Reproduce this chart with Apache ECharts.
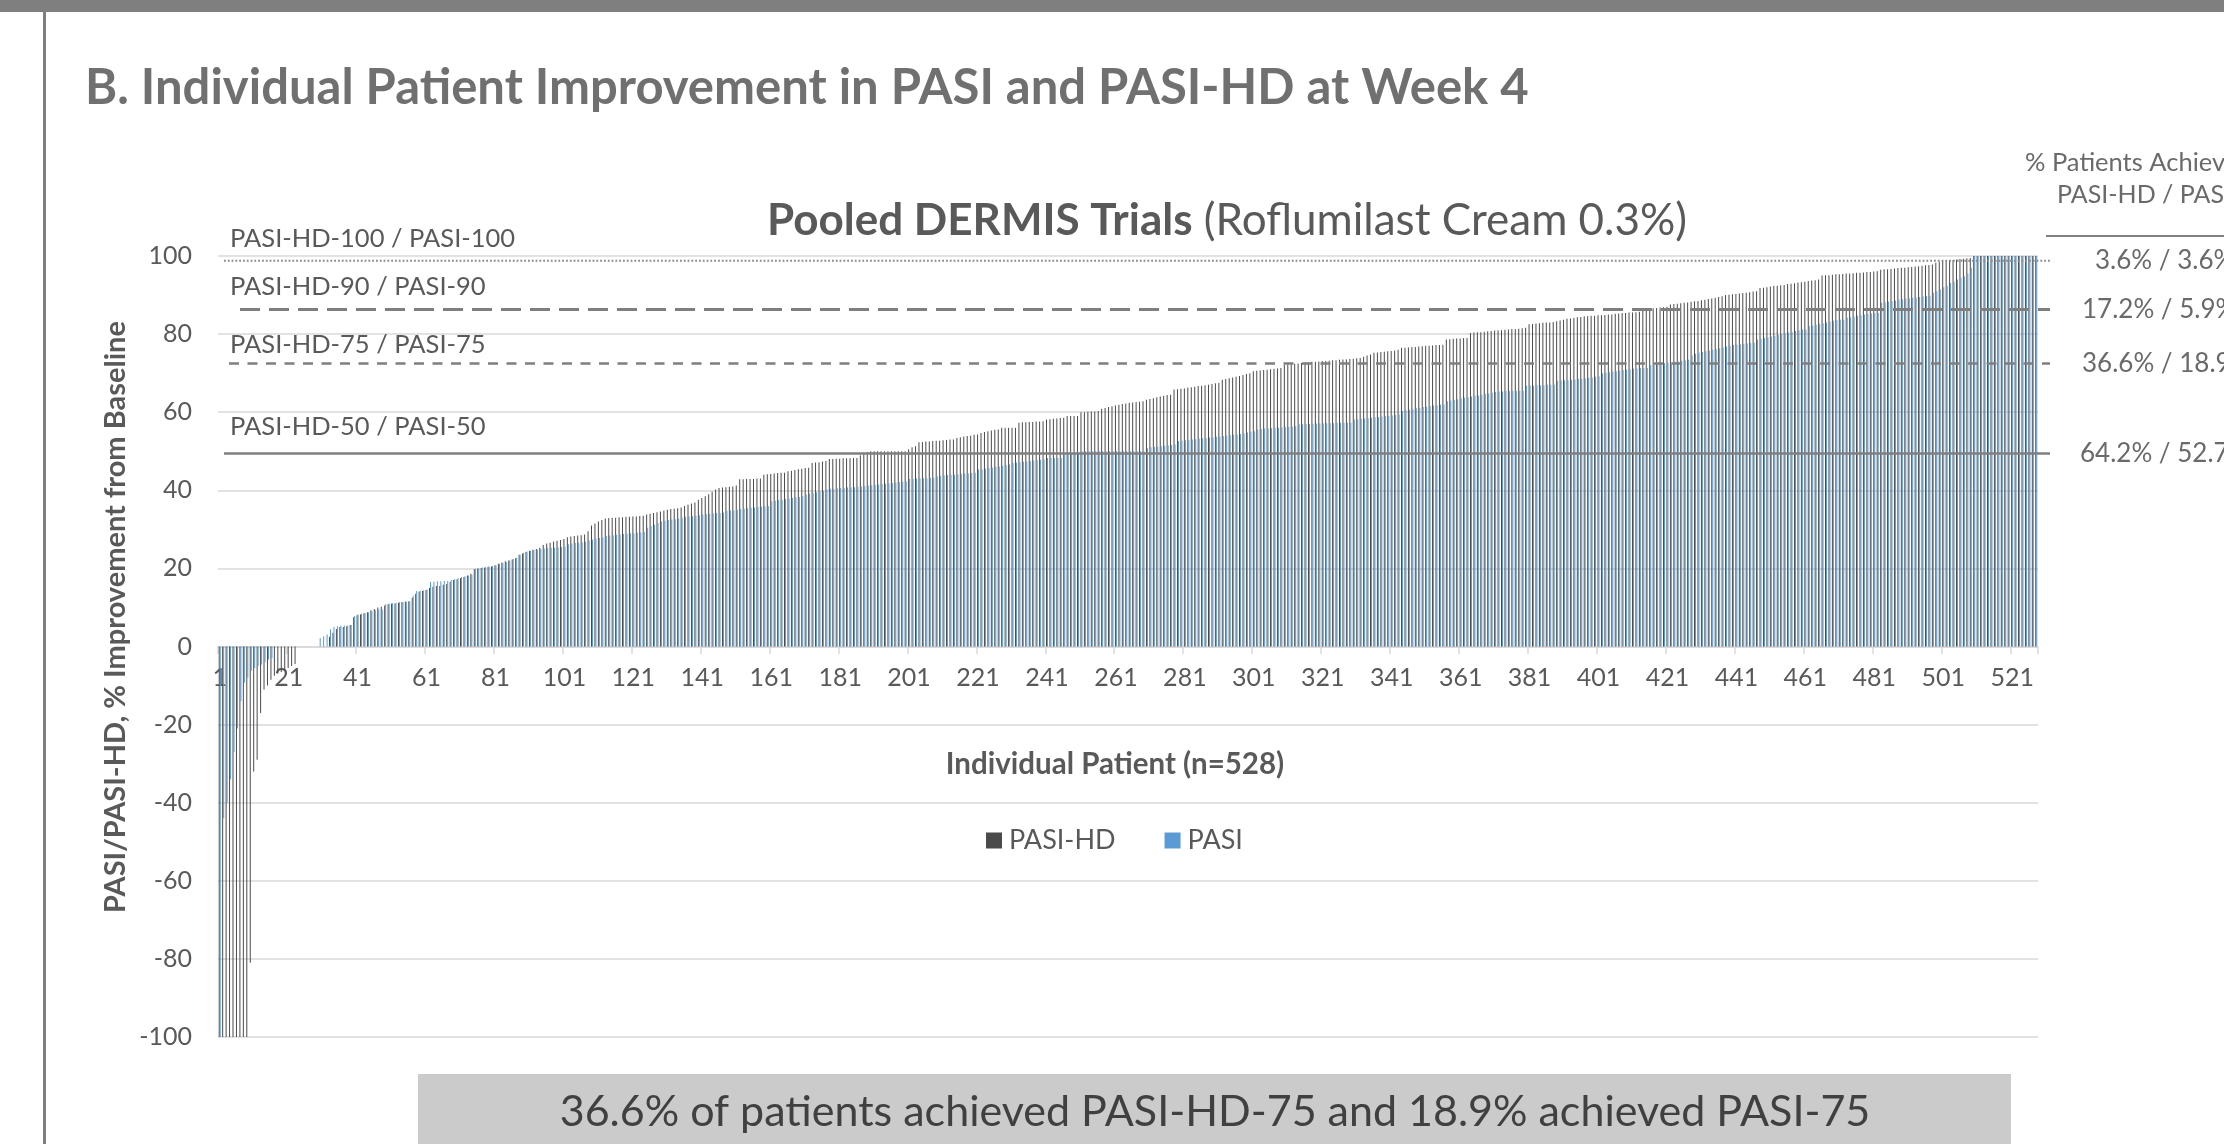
<!DOCTYPE html>
<html><head><meta charset="utf-8">
<script src="https://cdn.jsdelivr.net/npm/echarts@6/dist/echarts.min.js"></script>
<style>html,body{margin:0;padding:0;background:#fff}#c{width:2224px;height:1144px}</style>
</head><body><div id="c"></div>
<script>
// ---------------- DATA ----------------
const patients = [];
for (let i = 1; i <= 528; i++) patients.push(String(i));

// PASI-HD % improvement, individual patients (sorted)
const pasiHD = [
-100,-100,-100,-100,-100,-100,-100,-100,-100,-81,
-32,-29,-17,-11,-10,-8.5,-7.5,-7,-6.5,-6,
-5.5,-5,-4.5,0,0,0,0,0,0,0,
0,0,2.5,3.5,4.5,5,5,5.2,5.5,7.5,
8,8.2,8.5,8.8,9.3,9.6,10,10.2,10.5,10.8,
11,11,11.2,11.4,11.5,11.6,12.5,13.5,14,14.2,
14.5,15,15.3,15.5,15.5,15.8,16,16.5,17,17.2,
17.5,17.8,18.2,18.6,19.8,20,20.1,20.2,20.4,20.5,
20.8,21.2,21.5,21.8,22,22.3,22.6,23.5,23.8,24.2,
24.5,24.8,25,25.3,26,26.4,26.6,26.9,27.1,27.3,
27.5,28,28.2,28.3,28.4,28.5,28.7,29.5,31,31.5,
32,32.4,32.8,32.9,33,33,33.1,33.1,33.2,33.2,
33.3,33.3,33.4,33.5,33.8,34,34.2,34.4,34.6,34.8,
35,35.2,35.3,35.4,35.6,36,36.3,36.6,36.9,37.6,
38,38.5,39,39.6,40.2,40.6,40.7,40.8,40.9,41,
41.2,42.8,42.8,42.9,42.9,42.9,43,43,44,44.1,
44.2,44.3,44.4,44.5,44.5,44.9,45,45.2,45.4,45.5,
45.7,45.8,47,47.1,47.2,47.4,47.5,48,48,48.1,
48.1,48.2,48.2,48.2,48.3,48.3,49,49.5,49.8,50,
50,50,50,50,50,50,50,50,50,50,
50.5,51,51.3,52.3,52.4,52.5,52.5,52.6,52.7,52.7,
52.8,52.9,53,53,53.4,53.6,53.8,53.9,54,54.2,
54.3,54.7,54.9,55.1,55.3,55.5,55.6,56,56,56,
56,56,57.3,57.4,57.4,57.5,57.5,57.6,57.6,57.7,
58.1,58.2,58.3,58.4,58.5,58.6,59,59,59,59,
60,60,60.1,60.2,60.2,60.3,60.9,61.1,61.3,61.5,
61.7,61.9,62.1,62.2,62.4,62.5,62.6,62.7,62.8,63.2,
63.4,63.6,63.8,64,64.2,64.4,64.5,65.8,65.9,66,
66.1,66.3,66.4,66.5,66.7,66.8,66.9,67,67.2,67.4,
67.5,68.3,68.5,68.7,68.9,69.1,69.3,69.5,69.8,70,
70.5,70.6,70.7,70.8,70.9,71,71.1,71.2,71.3,72.1,
72.2,72.3,72.4,72.5,72.6,72.7,72.8,72.9,72.9,73,
73.1,73.1,73.2,73.3,73.3,73.4,73.5,73.5,73.6,73.7,
73.8,73.9,74.2,74.5,74.8,75.2,75.3,75.4,75.5,75.6,
75.7,75.8,76,76.5,76.5,76.6,76.7,76.7,76.8,76.9,
77,77,77.1,77.2,77.2,77.3,78.6,78.7,78.8,78.9,
78.9,79,79,80.3,80.4,80.5,80.5,80.6,80.7,80.8,
80.9,81,81,81.1,81.2,81.3,81.3,81.4,81.5,81.6,
82.5,82.6,82.7,82.8,82.9,83,83,83.1,83.3,83.5,
83.7,83.9,84,84.1,84.3,84.4,84.6,84.6,84.7,84.7,
84.8,84.8,84.9,85,85,85.2,85.3,85.4,85.4,85.5,
85.5,85.6,85.7,86.3,86.4,86.5,86.6,86.7,86.8,86.9,
87,87.6,87.7,87.8,87.9,88,88.1,88.3,88.4,88.5,
88.7,88.8,89,89.1,89.3,89.5,89.7,90,90.1,90.2,
90.3,90.4,90.5,90.6,90.7,90.9,91,91.8,91.9,92,
92.2,92.3,92.4,92.5,92.6,92.8,92.9,93,93.2,93.3,
93.4,93.6,93.7,93.8,94,95,95.1,95.1,95.2,95.3,
95.3,95.4,95.5,95.5,95.6,95.7,95.7,95.8,95.9,95.9,
96,96.1,96.5,96.6,96.6,96.7,96.8,96.9,97,97,
97.1,97.2,97.3,97.4,97.5,97.6,97.7,97.8,98.3,98.5,
98.7,98.8,98.9,99,99.1,99.2,99.3,99.4,99.5,100,
100,100,100,100,100,100,100,100,100,100,
100,100,100,100,100,100,100,100
];

// PASI % improvement, individual patients (sorted)
const pasi = [
-100,-44,-40,-34,-27,-21,-14,-9.3,-8,-6.3,
-5.5,-5,-4.6,-4,-3.3,-3,0,0,0,0,
0,0,0,0,0,0,0,0,0,2.2,
2.6,3.1,4.4,5,5.2,5.3,5.4,5.4,5.5,7.8,
8.2,8.4,8.6,8.8,9,9.3,9.5,9.5,10.8,11,
11.1,11.2,11.3,11.4,11.4,11.5,13,14.2,14.3,14.4,
14.6,16.5,16.6,16.7,16.7,16.8,16.8,17,17.2,17.5,
17.8,18,18.2,18.4,19.9,20,20.2,20.3,20.5,20.6,
20.8,21.2,21.4,21.6,22,22.4,22.7,23.5,24,24.3,
24.5,24.7,24.8,25,25.1,25.2,25.3,25.3,25.4,25.5,
25.6,26.2,26.4,26.5,26.6,26.7,26.8,27.2,27.4,27.6,
27.8,28,28.3,28.4,28.5,28.6,28.7,28.8,28.9,29,
29,29.1,29.2,29.3,30.4,30.8,31.2,31.6,32,32.2,
32.4,32.5,32.6,32.8,33,33.2,33.3,33.4,33.5,33.6,
33.8,33.9,34,34.1,34.2,34.2,34.3,34.7,34.8,34.9,
35,35.2,35.3,35.4,35.5,35.6,35.7,35.8,35.9,36,
37.2,37.3,37.5,37.6,37.8,37.9,38,38.2,38.3,38.5,
38.9,39.1,39.3,39.5,39.7,39.9,40.2,40.4,40.4,40.5,
40.6,40.6,40.7,40.8,40.8,40.9,41,41.1,41.2,41.3,
41.4,41.5,41.6,41.7,41.8,41.9,42,42.1,42.2,42.3,
42.9,42.9,43,43,43.1,43.1,43.2,43.2,43.6,43.7,
43.8,43.9,44,44,44.1,44.2,44.3,44.3,44.4,44.5,
45.3,45.4,45.5,45.7,45.8,46,46.1,46.3,46.5,46.6,
47,47.1,47.2,47.3,47.4,47.5,47.6,47.7,47.8,47.9,
48.3,48.3,48.3,48.3,48.3,49.2,49.3,49.4,49.5,49.6,
50,50,50,50,50,50,50,50,50,50,
50,50,50,50,50,50,50,50,50,50.8,
51,51.1,51.2,51.3,51.4,51.5,51.6,51.7,52.6,52.7,
52.8,52.9,53,53.1,53.2,53.3,53.4,53.5,53.6,53.7,
53.8,53.9,54,54.1,54.2,54.3,54.4,54.6,54.8,55,
55.1,55.6,55.7,55.8,55.8,55.9,56,56,56.1,56.2,
56.2,56.3,56.4,56.9,56.9,57,57,57,57.1,57.1,
57.1,57.2,57.2,57.2,57.3,57.3,57.3,57.3,57.3,58.1,
58.2,58.3,58.4,58.5,58.6,58.7,58.8,58.9,59,59.1,
59.2,59.3,59.4,60.3,60.5,60.6,60.8,61,61.1,61.3,
61.4,61.6,61.7,61.8,62,62,62.8,63,63.2,63.3,
63.5,63.7,63.8,64,64.2,64.3,64.5,64.7,64.8,65,
65.2,65.3,65.3,65.4,65.4,65.4,65.5,65.5,65.5,66.8,
66.8,66.8,66.9,66.9,66.9,67,67,67,68,68.1,
68.2,68.2,68.3,68.4,68.5,68.5,68.6,68.8,68.9,69.1,
69.2,70,70.1,70.2,70.4,70.5,70.6,70.8,70.9,71,
71.1,71.2,71.3,71.3,71.3,72.1,72.2,72.3,72.4,72.6,
72.7,72.8,72.9,73,73.2,73.3,73.4,74.5,75,75.2,
75.4,75.6,75.8,76,76.2,76.4,76.6,76.8,77,77.2,
77.3,77.4,77.5,77.6,77.7,77.8,78.6,78.8,79,79.2,
79.4,79.6,79.8,80,80.2,80.4,80.6,80.8,81,81.2,
81.2,82,82.2,82.4,82.6,82.8,83,83.2,83.4,83.6,
83.7,83.7,84.2,84.3,84.5,84.7,84.8,85,85.2,85.3,
85.4,85.4,88,88.1,88.3,88.5,88.6,88.8,88.9,89.1,
89.2,89.3,89.4,89.5,89.6,89.7,89.8,90.6,91,91.5,
92,92.3,93.1,93.5,94,94.4,94.8,95.5,97,100,
100,100,100,100,100,100,100,100,100,100,
100,100,100,100,100,100,100,100
];

// Threshold reference lines (as drawn in the figure) and their labels
const thresholdValues = [98.8, 86.3, 72.5, 49.4];
const thresholdLabels = ['PASI-HD-100 / PASI-100', 'PASI-HD-90 / PASI-90', 'PASI-HD-75 / PASI-75', 'PASI-HD-50 / PASI-50'];
const achievedLabels = ['3.6% / 3.6%', '17.2% / 5.9%', '36.6% / 18.9%', '64.2% / 52.7%'];

// ---------------- CHART ----------------
const FONT = 'Lato, "Open Sans", sans-serif';
const TXT = '#595959';
const chart = echarts.init(document.getElementById('c'), null, {renderer: 'canvas'});

chart.setOption({
  animation: false,
  backgroundColor: '#ffffff',
  textStyle: {fontFamily: FONT},
  grid: [
    // main plot: -100 .. 100
    {left: 218, right: 186, top: 256, bottom: 107, containLabel: false, outerBoundsMode: 'none'},
    // upper half (0 .. 100) only used to carry the category axis on the zero line
    {left: 218, right: 186, top: 256, bottom: 497, containLabel: false, outerBoundsMode: 'none'}
  ],
  legend: {
    data: ['PASI-HD', 'PASI'],
    left: 981, top: 822,
    icon: 'rect', itemWidth: 16, itemHeight: 16, itemGap: 49,
    textStyle: {fontSize: 27, color: TXT, fontFamily: FONT, padding: [0, 0, 0, 2]}
  },
  xAxis: [
    {
      gridIndex: 0, type: 'category', data: patients, boundaryGap: true,
      axisLine: {show: false}, axisTick: {show: false}, axisLabel: {show: false}, splitLine: {show: false}
    },
    {
      gridIndex: 1, type: 'category', data: patients, boundaryGap: true, position: 'bottom',
      axisLine: {show: true, onZero: false, lineStyle: {color: '#d9d9d9', width: 1.5}},
      axisTick: {show: true, interval: 19, length: 7, lineStyle: {color: '#d9d9d9', width: 1.5}},
      axisLabel: {interval: 19, fontSize: 25, color: TXT, fontFamily: FONT, margin: 18},
      splitLine: {show: false}
    }
  ],
  yAxis: [
    {
      gridIndex: 0, type: 'value', min: -100, max: 100, interval: 20,
      axisLine: {show: false}, axisTick: {show: false},
      axisLabel: {fontSize: 25, color: TXT, fontFamily: FONT, margin: 26},
      splitLine: {lineStyle: {color: '#d9d9d9', width: 1.5}}
    },
    {
      gridIndex: 1, type: 'value', min: 0, max: 100, interval: 20, show: false,
      splitLine: {show: false}
    }
  ],
  series: [
    {name: 'PASI-HD', type: 'bar', xAxisIndex: 0, yAxisIndex: 0, data: pasiHD, barWidth: 1, barGap: '0%',
     itemStyle: {color: '#4a4a4a'}},
    {name: 'PASI', type: 'bar', xAxisIndex: 0, yAxisIndex: 0, data: pasi, barWidth: 1, barGap: '0%',
     itemStyle: {color: '#5b9bd5'}}
  ]
});

const yPx = v => chart.convertToPixel({yAxisIndex: 0}, v);

const lineStyles = [
  {x1: 224, lineDash: [1.8, 2], lineWidth: 2, stroke: '#8a8a8a'},
  {x1: 240, lineDash: [20, 9], lineWidth: 3, stroke: '#7f7f7f'},
  {x1: 229, lineDash: [10, 8.5], lineWidth: 2.5, stroke: '#7f7f7f'},
  {x1: 224, lineDash: null, lineWidth: 2.5, stroke: '#7f7f7f'}
];
const labelOffsets = [-22, -23, -19, -27];
const achievedX = [2095, 2082, 2082, 2080];

const g = [];
// frame
g.push({type: 'rect', shape: {x: 0, y: 0, width: 2224, height: 12}, style: {fill: '#7f7f7f'}, z: 100});
g.push({type: 'rect', shape: {x: 43, y: 0, width: 3, height: 1144}, style: {fill: '#7f7f7f'}, z: 100});
// heading
g.push({type: 'text', x: 85, y: 88, style: {text: 'B. Individual Patient Improvement in PASI and PASI-HD at Week 4',
  fontFamily: FONT, fontWeight: 'bold', fontSize: 49, fill: '#707070', textVerticalAlign: 'middle'}});
// chart title
g.push({type: 'text', x: 767, y: 221, style: {
  text: '{b|Pooled DERMIS Trials}{n| (Roflumilast Cream 0.3%)}',
  textVerticalAlign: 'middle',
  rich: {b: {fontFamily: FONT, fontWeight: 'bold', fontSize: 44, fill: TXT},
         n: {fontFamily: FONT, fontSize: 44, fill: TXT}}}});
// axis titles
g.push({type: 'text', x: 116, y: 617, rotation: Math.PI / 2, style: {text: 'PASI/PASI-HD, % Improvement from Baseline',
  fontFamily: FONT, fontWeight: 'bold', fontSize: 29, fill: TXT, textAlign: 'center', textVerticalAlign: 'middle'}});
g.push({type: 'text', x: 1115, y: 764, style: {text: 'Individual Patient (n=528)',
  fontFamily: FONT, fontWeight: 'bold', fontSize: 29.5, fill: TXT, textAlign: 'center', textVerticalAlign: 'middle'}});
// threshold lines, labels, right-side values
thresholdValues.forEach((v, i) => {
  const y = yPx(v);
  const s = lineStyles[i];
  g.push({type: 'line', shape: {x1: s.x1, y1: y, x2: 2050, y2: y},
    style: {stroke: s.stroke, lineWidth: s.lineWidth, lineDash: s.lineDash}, z: 50});
  g.push({type: 'text', x: 230, y: y + labelOffsets[i], style: {text: thresholdLabels[i],
    fontFamily: FONT, fontSize: 25.5, fill: TXT, textVerticalAlign: 'middle'}, z: 50});
  g.push({type: 'text', x: achievedX[i], y: y, style: {text: achievedLabels[i],
    fontFamily: FONT, fontSize: 26, fill: '#6a6a6a', textVerticalAlign: 'middle'}, z: 50});
});
// right-side header
g.push({type: 'text', x: 2025, y: 163, style: {text: '% Patients Achieving', fontFamily: FONT, fontSize: 25.5, fill: '#6a6a6a', textVerticalAlign: 'middle'}});
g.push({type: 'text', x: 2057, y: 195, style: {text: 'PASI-HD / PASI', fontFamily: FONT, fontSize: 25, fill: '#6a6a6a', textVerticalAlign: 'middle'}});
g.push({type: 'line', shape: {x1: 2046, y1: 236, x2: 2224, y2: 236}, style: {stroke: '#808080', lineWidth: 2}});
// bottom banner
g.push({type: 'rect', shape: {x: 418, y: 1074, width: 1593, height: 70}, style: {fill: '#cbcbcb'}});
g.push({type: 'text', x: 1215, y: 1112, style: {text: '36.6% of patients achieved PASI-HD-75 and 18.9% achieved PASI-75',
  fontFamily: FONT, fontSize: 43, fill: '#404040', textAlign: 'center', textVerticalAlign: 'middle'}});

chart.setOption({graphic: g});
</script>
</body></html>
